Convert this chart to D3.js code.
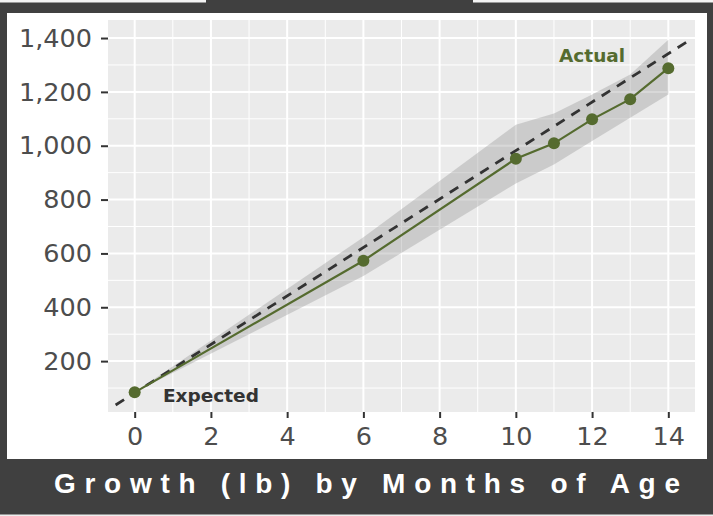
<!DOCTYPE html>
<html>
<head>
<meta charset="utf-8">
<script src="https://cdn.jsdelivr.net/npm/d3@7"></script>
<style>
  body { margin: 0; background: #404040; }
</style>
</head>
<body>
<div id="chart"></div>
<script>
// data
const months = [0, 6, 10, 11, 12, 13, 14];
const actual = [84, 573, 952, 1009, 1098, 1173, 1288];
const bandUpper = [84, 660, 1078, 1120, 1190, 1265, 1394];
const bandLower = [84, 516, 860, 930, 1018, 1104, 1190];
const expectedMonths = [-0.5, 14.5];
const expectedWeights = [37, 1387];

const xTicks = [0, 2, 4, 6, 8, 10, 12, 14];
const xMinor = [1, 3, 5, 7, 9, 11, 13];
const yTicks = [200, 400, 600, 800, 1000, 1200, 1400];
const yMinor = [100, 300, 500, 700, 900, 1100, 1300];

const labelText = ['Expected', 'Actual'];
const labelMonth = [2, 12];
const labelWeight = [48, 1311];
const labelColor = ['#333333', '#556B2F'];

const title = 'Growth (lb) by Months of Age';

const width = 713;
const height = 516;
const panel = { left: 108, right: 695, top: 20, bottom: 412 };

const svg = d3.select('#chart')
  .append('svg')
  .attr('width', width)
  .attr('height', height);

// frame
svg.append('rect').attr('width', width).attr('height', height).attr('fill', '#404040');
svg.append('rect').attr('x', 0).attr('y', 0).attr('width', 206).attr('height', 2.5).attr('fill', '#f4f4f4');
svg.append('rect').attr('x', 473).attr('y', 0).attr('width', 240).attr('height', 2.5).attr('fill', '#f4f4f4');
svg.append('rect').attr('x', 0).attr('y', 514.5).attr('width', width).attr('height', 2).attr('fill', '#eeeeee');
svg.append('rect').attr('x', 7).attr('y', 13).attr('width', 700).attr('height', 446).attr('fill', '#ffffff');

const x = d3.scaleLinear()
  .domain([-0.7, 14.7])
  .range([panel.left, panel.right]);

const y = d3.scaleLinear()
  .domain([11, 1467])
  .range([panel.bottom, panel.top]);

svg.append('rect')
  .attr('x', panel.left).attr('y', panel.top)
  .attr('width', panel.right - panel.left)
  .attr('height', panel.bottom - panel.top)
  .attr('fill', '#ebebeb');

svg.append('clipPath').attr('id', 'clip')
  .append('rect')
  .attr('x', panel.left).attr('y', panel.top)
  .attr('width', panel.right - panel.left)
  .attr('height', panel.bottom - panel.top);

// grid
const grid = svg.append('g');
grid.selectAll('.xmin').data(xMinor).enter().append('line')
  .attr('x1', d => x(d)).attr('x2', d => x(d))
  .attr('y1', panel.top).attr('y2', panel.bottom)
  .attr('stroke', '#fff').attr('stroke-width', 1);
grid.selectAll('.ymin').data(yMinor).enter().append('line')
  .attr('y1', d => y(d)).attr('y2', d => y(d))
  .attr('x1', panel.left).attr('x2', panel.right)
  .attr('stroke', '#fff').attr('stroke-width', 1);
grid.selectAll('.xmaj').data(xTicks).enter().append('line')
  .attr('x1', d => x(d)).attr('x2', d => x(d))
  .attr('y1', panel.top).attr('y2', panel.bottom)
  .attr('stroke', '#fff').attr('stroke-width', 2);
grid.selectAll('.ymaj').data(yTicks).enter().append('line')
  .attr('y1', d => y(d)).attr('y2', d => y(d))
  .attr('x1', panel.left).attr('x2', panel.right)
  .attr('stroke', '#fff').attr('stroke-width', 2);

const plot = svg.append('g').attr('clip-path', 'url(#clip)');

const rows = months.map((m, i) => ({ m, a: actual[i], hi: bandUpper[i], lo: bandLower[i] }));

const band = d3.area()
  .x(d => x(d.m))
  .y0(d => y(d.lo))
  .y1(d => y(d.hi));

plot.append('path')
  .datum(rows)
  .attr('d', band)
  .attr('fill', '#999999')
  .attr('fill-opacity', 0.38);

const expRows = expectedMonths.map((m, i) => ({ m, w: expectedWeights[i] }));
plot.append('path')
  .datum(expRows)
  .attr('d', d3.line().x(d => x(d.m)).y(d => y(d.w)))
  .attr('fill', 'none')
  .attr('stroke', '#333333')
  .attr('stroke-width', 2.8)
  .attr('stroke-dasharray', '10,8');

plot.append('path')
  .datum(rows)
  .attr('d', d3.line().x(d => x(d.m)).y(d => y(d.a)))
  .attr('fill', 'none')
  .attr('stroke', '#556B2F')
  .attr('stroke-width', 2.2);

plot.selectAll('circle')
  .data(rows)
  .enter()
  .append('circle')
  .attr('cx', d => x(d.m))
  .attr('cy', d => y(d.a))
  .attr('r', 6)
  .attr('fill', '#556B2F');

svg.append('g')
  .selectAll('text')
  .data(labelText)
  .enter()
  .append('text')
  .attr('x', (d, i) => x(labelMonth[i]))
  .attr('y', (d, i) => y(labelWeight[i]))
  .attr('text-anchor', 'middle')
  .attr('font-family', 'DejaVu Sans')
  .attr('font-weight', 'bold')
  .attr('font-size', '18.5px')
  .attr('fill', (d, i) => labelColor[i])
  .text(d => d);

// axes
function styleAxis(g) {
  g.select('.domain').remove();
  g.selectAll('.tick line').attr('stroke', '#333333').attr('stroke-width', 2);
  g.selectAll('.tick text')
    .attr('fill', '#4d4d4d')
    .attr('font-family', 'DejaVu Sans')
    .attr('font-size', '25.5px');
}

svg.append('g')
  .attr('transform', `translate(${panel.left},0)`)
  .call(d3.axisLeft(y).tickValues(yTicks).tickFormat(d3.format(',')).tickSize(7).tickPadding(9))
  .call(styleAxis);

svg.append('g')
  .attr('transform', `translate(0,${panel.bottom})`)
  .call(d3.axisBottom(x).tickValues(xTicks).tickSize(6).tickPadding(9))
  .call(styleAxis);

// title
svg.append('text')
  .attr('x', 54)
  .attr('y', 493)
  .attr('textLength', 626)
  .attr('lengthAdjust', 'spacing')
  .attr('font-family', "'Liberation Sans Narrow', 'Liberation Sans', Arial, sans-serif")
  .attr('font-weight', 'bold')
  .attr('font-size', '28px')
  .attr('fill', '#ffffff')
  .text(title);
</script>
</body>
</html>
